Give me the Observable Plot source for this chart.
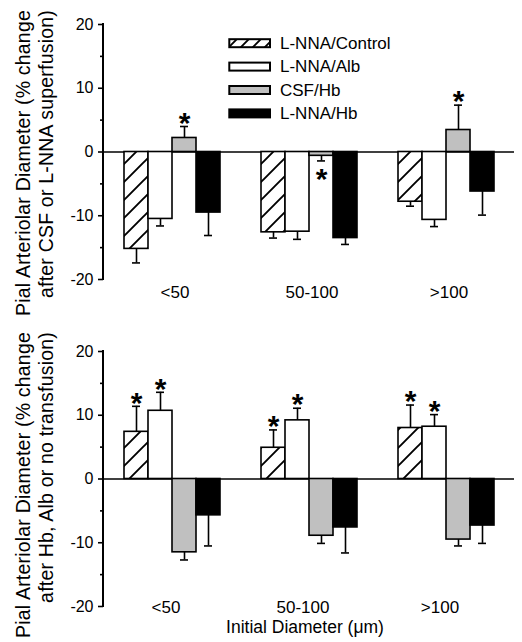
<!DOCTYPE html>
<html><head><meta charset="utf-8">
<script src="https://cdn.jsdelivr.net/npm/d3@7"></script>
<script src="https://cdn.jsdelivr.net/npm/@observablehq/plot@0.6"></script>
<style>
body{margin:0;background:#fff;}
#wrap{position:relative;width:522px;height:642px;font-family:"Liberation Sans",Arial,sans-serif;}
#wrap > svg{position:absolute;left:0;overflow:visible;}
</style></head><body><div id="wrap"></div>
<script>
// ---- data ----
const groups = ["<50", "50-100", ">100"];
const series = ["L-NNA/Control", "L-NNA/Alb", "CSF/Hb", "L-NNA/Hb"];
// rows = groups, columns = series
const topMeans = [[-15.2, -10.5, 2.2, -9.5], [-12.6, -12.5, -0.6, -13.5], [-7.8, -10.65, 3.45, -6.2]];
const topErrs = [[2.2, 1.1, 1.8, 3.6], [0.9, 1.2, 0.8, 1.0], [0.7, 1.05, 3.9, 3.7]];
const topStars = [[0, 0, 1, 0], [0, 0, 1, 0], [0, 0, 1, 0]];
const bottomMeans = [[7.4, 10.7, -11.5, -5.7], [4.9, 9.2, -8.9, -7.6], [8.0, 8.2, -9.5, -7.3]];
const bottomErrs = [[4.0, 2.9, 1.2, 4.8], [2.8, 1.9, 1.2, 4.0], [3.6, 1.9, 1.0, 2.8]];
const bottomStars = [[1, 1, 0, 0], [1, 1, 0, 0], [1, 1, 0, 0]];
const yTicks = [-20, -10, 0, 10, 20];
const yMinorTicks = [-15, -5, 5, 15];
const topYLabel = ["Pial Arteriolar Diameter (% change", "after CSF or L-NNA superfusion)"];
const bottomYLabel = ["Pial Arteriolar Diameter (% change", "after Hb, Alb or no transfusion)"];
const xTitle = "Initial Diameter (\u03bcm)";

const FONT = '"Liberation Sans", Arial, sans-serif';
const wrap = d3.select("#wrap");

// shared pattern definitions
const defsSvg = wrap.append("svg").attr("width", 0).attr("height", 0).style("position", "absolute");
const defs = defsSvg.append("defs");
function hatch(id, s, w) {
  const p = defs.append("pattern").attr("id", id).attr("patternUnits", "userSpaceOnUse")
    .attr("width", s).attr("height", s);
  p.append("rect").attr("width", s).attr("height", s).attr("fill", "white");
  p.append("path").attr("d", `M${-s/4},${s/4} L${s/4},${-s/4} M0,${s} L${s},0 M${3*s/4},${5*s/4} L${5*s/4},${3*s/4}`)
    .attr("stroke", "black").attr("stroke-width", w);
}
hatch("hatchBar", 18, 1.9);
hatch("hatchLegend", 12, 1.9);
const fillRange = ["url(#hatchBar)", "white", "#c0c0c0", "black"];
const legendFill = ["url(#hatchLegend)", "white", "#c0c0c0", "black"];

function rows(means, errs, stars) {
  return groups.flatMap((g, gi) => series.map((s, si) => {
    const v = means[gi][si], e = errs[gi][si];
    return {group: g, series: s, value: v, tip: v + Math.sign(v) * e, star: !!stars[gi][si]};
  }));
}

function panel(data, {top, height, marginTop, marginBottom, labelPad, labelDx}) {
  const common = {fx: "group", x: "series"};
  const plot = Plot.plot({
    width: 522, height, marginLeft: 103, marginRight: 8, marginTop, marginBottom,
    style: {fontFamily: FONT, color: "black", background: "transparent", overflow: "visible"},
    fx: {domain: groups, padding: 0, label: null},
    x: {domain: series, paddingInner: 0, paddingOuter: 0.8, axis: null, label: null},
    y: {domain: [-20, 20], label: null},
    color: {domain: series, range: fillRange},
    marks: [
      Plot.ruleY([0], {stroke: "black", strokeWidth: 1.6}),
      Plot.ruleX(data, {...common, y1: "value", y2: "tip", stroke: "black", strokeWidth: 1.6}),
      Plot.tickY(data, {...common, y: "tip", stroke: "black", strokeWidth: 1.6, insetLeft: 8, insetRight: 8}),
      Plot.barY(data, {...common, y: "value", fill: "series", stroke: "black", strokeWidth: 1.6}),
      Plot.text(data.filter(d => d.star && d.tip > 0), {...common, y: "tip", text: () => "*", fontSize: 30, fontWeight: "bold", dy: -3.4}),
      Plot.text(data.filter(d => d.star && d.tip < 0), {...common, y: "tip", text: () => "*", fontSize: 30, fontWeight: "bold", dy: 18.6}),
      Plot.axisY({ticks: yTicks, tickSize: 5, tickPadding: 5, tickFormat: d => String(d), fontSize: 16, strokeWidth: 1.6}),
      Plot.axisY({ticks: yMinorTicks, tickSize: 3, tickFormat: () => "", strokeWidth: 1.6}),
      Plot.axisFx({anchor: "bottom", tickSize: 0, tickPadding: labelPad, dx: labelDx, fontSize: 17, label: null})
    ]
  });
  const y = plot.scale("y");
  d3.select(plot).append("line")
    .attr("x1", 103).attr("x2", 103)
    .attr("y1", y.apply(20) - 1).attr("y2", y.apply(-20) + 1)
    .attr("stroke", "black").attr("stroke-width", 2);
  d3.select(plot).style("top", top + "px");
  wrap.node().appendChild(plot);
  return plot;
}

panel(rows(topMeans, topErrs, topStars), {top: 0, height: 320, marginTop: 24, marginBottom: 41, labelPad: 6.5, labelDx: 3});
panel(rows(bottomMeans, bottomErrs, bottomStars), {top: 320, height: 322, marginTop: 31, marginBottom: 36, labelPad: -5.4, labelDx: -6});

// ---- overlay text: y labels, legend, x title ----
const ov = wrap.append("svg").attr("width", 522).attr("height", 642).style("top", "0px")
  .attr("font-family", FONT).attr("fill", "black");
function yLabel(lines, yEnd) {
  const xs = [29.5, 53];
  lines.forEach((t, i) => {
    ov.append("text").attr("transform", `translate(${xs[i]},${yEnd}) rotate(-90)`)
      .attr("text-anchor", "end").attr("font-size", 19.5).attr("letter-spacing", 0.2).text(t);
  });
}
yLabel(topYLabel, 10);
yLabel(bottomYLabel, 332);

ov.append("text").attr("x", 305).attr("y", 633).attr("text-anchor", "middle")
  .attr("font-size", 17.5).text(xTitle);

const lg = ov.append("g");
series.forEach((s, i) => {
  const cy = 43.2 + 23.4 * i;
  lg.append("rect").attr("x", 229.3).attr("y", cy - 4).attr("width", 40.7).attr("height", 8)
    .attr("fill", legendFill[i]).attr("stroke", "black").attr("stroke-width", 2);
  lg.append("text").attr("x", 280).attr("y", cy + 5.8).attr("font-size", 17).text(s);
});
</script></body></html>
